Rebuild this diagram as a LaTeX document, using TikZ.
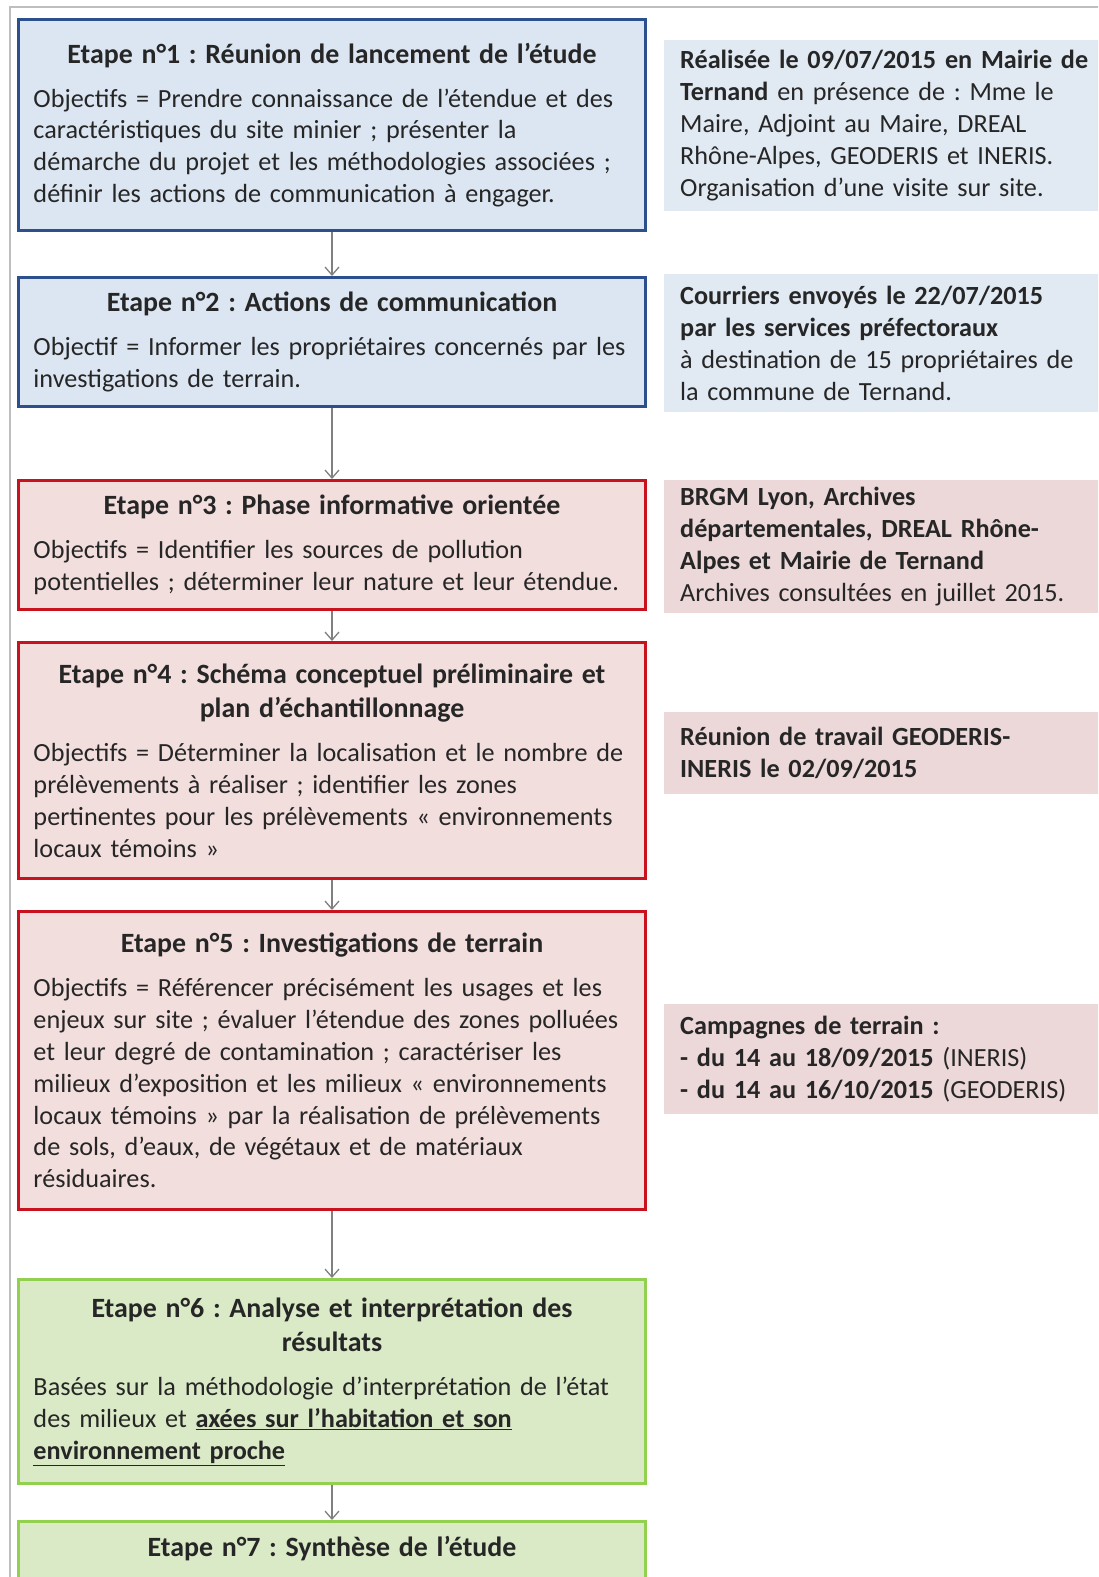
\documentclass[tikz,border=0pt]{standalone}
\usepackage{fontspec}
\setmainfont{Carlito}
\usepackage{xcolor}
\usetikzlibrary{arrows.meta}
\frenchspacing
\definecolor{texte}{RGB}{38,38,38}
\definecolor{bleutrait}{RGB}{44,80,142}
\definecolor{bleufond}{RGB}{220,230,242}
\definecolor{bleunote}{RGB}{225,233,243}
\definecolor{rougetrait}{RGB}{200,18,30}
\definecolor{rougefond}{RGB}{242,222,221}
\definecolor{rougenote}{RGB}{236,215,217}
\definecolor{verttrait}{RGB}{146,208,80}
\definecolor{vertfond}{RGB}{218,233,198}
\definecolor{cadre}{RGB}{190,190,190}
\newcommand{\titrecorps}[2]{{\centering\fontsize{28}{35}\selectfont\bfseries #1\par}\vspace{12bp}{\raggedright #2\par}}
\tikzset{
  etape/.style={draw, line width=3bp, anchor=north, minimum width=626bp, text width=597bp,
    inner xsep=14.5bp, text=texte, font=\fontsize{26.3}{32}\selectfont},
  bleu/.style={etape, draw=bleutrait, fill=bleufond},
  rouge/.style={etape, draw=rougetrait, fill=rougefond},
  vert/.style={etape, draw=verttrait, fill=vertfond},
  note/.style={anchor=north west, minimum width=450bp, text width=418bp, inner xsep=16bp,
    align=left, text=texte, font=\fontsize{26.3}{32}\selectfont},
  fleche/.style={->, >={Straight Barb[length=8bp,width=14bp]}, draw=gray, line width=1.3bp}
}
\begin{document}
\begin{tikzpicture}[x=1bp,y=-1bp]
  \clip (0,0) rectangle (1098,1577);
  \fill[white] (0,0) rectangle (1098,1577);
  \draw[cadre, line width=2bp] (10,1580) -- (10,7) -- (1100,7);
  % etapes
  \node[bleu, minimum height=211bp] (e1) at (332,18) {\titrecorps{Etape n°1 : Réunion de lancement de l’étude}{Objectifs = Prendre connaissance de l’étendue et des\\ caractéristiques du site minier ; présenter la\\ démarche du projet et les méthodologies associées ;\\ définir les actions de communication à engager.}};
  \node[bleu, minimum height=129bp] (e2) at (332,276) {\titrecorps{Etape n°2 : Actions de communication}{Objectif = Informer les propriétaires concernés par les\\ investigations de terrain.}};
  \node[rouge, minimum height=129bp] (e3) at (332,479) {\titrecorps{Etape n°3 : Phase informative orientée}{Objectifs = Identifier les sources de pollution\\ potentielles ; déterminer leur nature et leur étendue.}};
  \node[rouge, minimum height=236bp] (e4) at (332,641) {\titrecorps{Etape n°4 : Schéma conceptuel préliminaire et\\ plan d’échantillonnage}{Objectifs = Déterminer la localisation et le nombre de\\ prélèvements à réaliser ; identifier les zones\\ pertinentes pour les prélèvements « environnements\\ locaux témoins »}};
  \node[rouge, minimum height=298bp] (e5) at (332,910) {\titrecorps{Etape n°5 : Investigations de terrain}{Objectifs = Référencer précisément les usages et les\\ enjeux sur site ; évaluer l’étendue des zones polluées\\ et leur degré de contamination ; caractériser les\\ milieux d’exposition et les milieux « environnements\\ locaux témoins » par la réalisation de prélèvements\\ de sols, d’eaux, de végétaux et de matériaux\\ résiduaires.}};
  \node[vert, minimum height=204bp] (e6) at (332,1278) {\titrecorps{Etape n°6 : Analyse et interprétation des\\ résultats}{Basées sur la méthodologie d’interprétation de l’état\\ des milieux et \textbf{\underline{axées sur l’habitation et son}}\\ \textbf{\underline{environnement proche}}}};
  \node[vert, minimum height=80bp, anchor=north, text depth=30bp] (e7) at (332,1520) {\centering\fontsize{28}{35}\selectfont\bfseries Etape n°7 : Synthèse de l’étude\par};
  % fleches
  \draw[fleche] (e1) -- (e2);
  \draw[fleche] (e2) -- (e3);
  \draw[fleche] (e3) -- (e4);
  \draw[fleche] (e4) -- (e5);
  \draw[fleche] (e5) -- (e6);
  \draw[fleche] (e6) -- (e7);
  % notes
  \node[note, fill=bleunote, minimum height=171bp] (n1) at (664,40) {\textbf{Réalisée le 09/07/2015 en Mairie de}\\ \textbf{Ternand} en présence de : Mme le\\ Maire, Adjoint au Maire, DREAL\\ Rhône-Alpes, GEODERIS et INERIS.\\ Organisation d’une visite sur site.};
  \node[note, fill=bleunote, minimum height=138bp] (n2) at (664,274) {\textbf{Courriers envoyés le 22/07/2015}\\ \textbf{par les services préfectoraux}\\ à destination de 15 propriétaires de\\ la commune de Ternand.};
  \node[note, fill=rougenote, minimum height=133bp] (n3) at (664,480) {\textbf{BRGM Lyon, Archives}\\ \textbf{départementales, DREAL Rhône-}\\ \textbf{Alpes et Mairie de Ternand}\\ Archives consultées en juillet 2015.};
  \node[note, fill=rougenote, minimum height=82bp] (n4) at (664,712) {\textbf{Réunion de travail GEODERIS-}\\ \textbf{INERIS le 02/09/2015}};
  \node[note, fill=rougenote, minimum height=110bp] (n5) at (664,1004) {\textbf{Campagnes de terrain :}\\ \textbf{- du 14 au 18/09/2015} (INERIS)\\ \textbf{- du 14 au 16/10/2015} (GEODERIS)};
\end{tikzpicture}
\end{document}
